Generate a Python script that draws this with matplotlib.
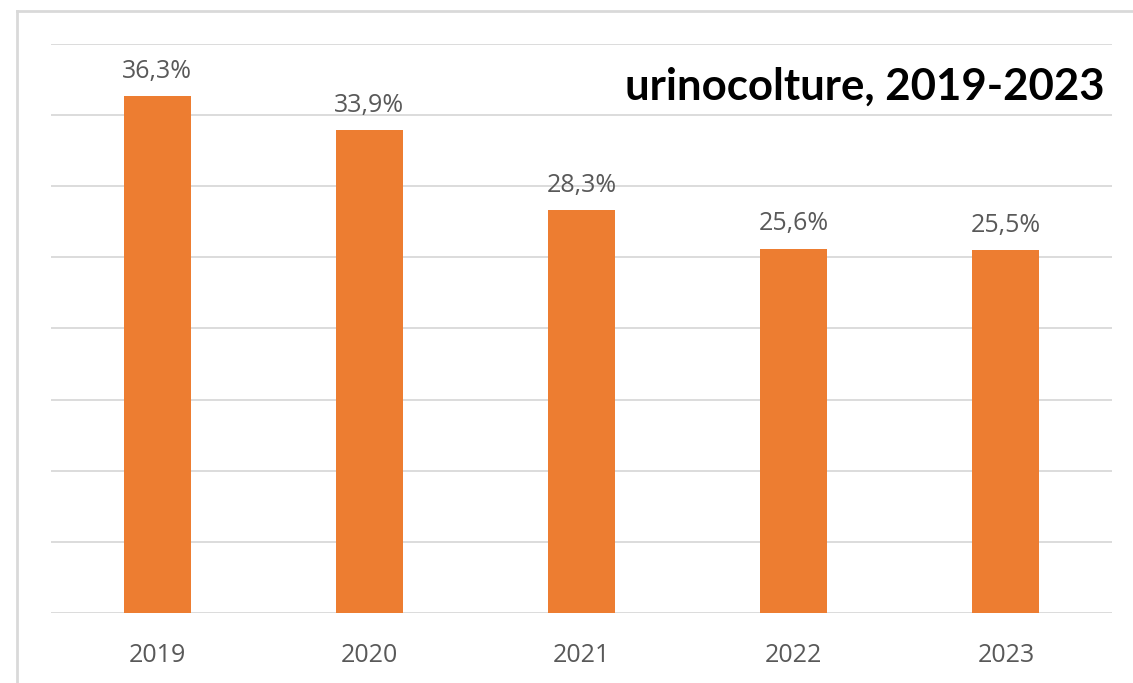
import matplotlib
matplotlib.use("Agg")
import matplotlib.pyplot as plt
from matplotlib.lines import Line2D

years = ["2019", "2020", "2021", "2022", "2023"]
shares = [36.3, 33.9, 28.3, 25.6, 25.5]
title_text = "urinocolture, 2019-2023"

BAR_COLOR = "#ED7D31"
GRID_COLOR = "#D9D9D9"
TEXT_COLOR = "#595959"


def fmt_pct(v):
    # decimal comma, Italian style
    return f"{v:.1f}%".replace(".", ",")


def main():
    fig = plt.figure(figsize=(11.33, 6.83), dpi=100)
    ax = fig.add_axes([0.045, 0.1018, 0.9365, 0.8345])

    x = range(len(years))
    bars = ax.bar(x, shares, width=0.316, color=BAR_COLOR, zorder=3)

    ax.set_ylim(0, 40)
    ax.set_xlim(-0.5, len(years) - 0.5)
    ax.set_yticks(range(0, 41, 5))
    ax.yaxis.grid(True, color=GRID_COLOR, linewidth=1.3)
    ax.set_axisbelow(True)
    ax.tick_params(axis="y", left=False, labelleft=False)
    ax.set_xticks(list(x))
    ax.set_xticklabels(years, fontfamily="Open Sans", fontsize=18, color=TEXT_COLOR)
    ax.tick_params(axis="x", length=0, pad=21)
    for s in ax.spines.values():
        s.set_visible(False)

    for b, v in zip(bars, shares):
        ax.annotate(fmt_pct(v), (b.get_x() + b.get_width() / 2, v),
                    xytext=(0, 9), textcoords="offset points",
                    ha="center", va="bottom", fontfamily="Open Sans",
                    fontsize=18, color=TEXT_COLOR)

    ax.text(0.9925, 0.925, title_text, transform=ax.transAxes,
            ha="right", va="center", fontfamily="Lato", fontweight="bold",
            fontsize=31.5, color="black")

    # chart frame, only its left and top edges fall inside the image
    fx = 16.5 / 1133
    fy = 1 - 10.5 / 683
    fig.add_artist(Line2D([fx, fx], [0, fy], color=GRID_COLOR, linewidth=2))
    fig.add_artist(Line2D([fx, 1], [fy, fy], color=GRID_COLOR, linewidth=2))

    fig.savefig("out.png", dpi=100, facecolor="white")


if __name__ == "__main__":
    main()
